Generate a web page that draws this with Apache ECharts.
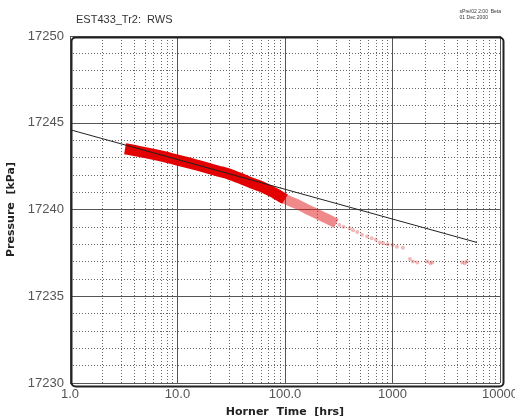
<!DOCTYPE html>
<html>
<head>
<meta charset="utf-8">
<script src="https://cdn.jsdelivr.net/npm/echarts@6/dist/echarts.min.js"></script>
<style>
  html, body { margin: 0; padding: 0; background: #fff; }
  #chart { width: 515px; height: 416px; }
</style>
</head>
<body>
<div id="chart"></div>
<script>
// dense part of the red measured band (centre of ribbon)
var denseTime = [3.25, 4, 5, 6.5, 8, 10, 13, 16, 20, 25, 30, 40, 50, 60, 80, 100];
var densePres = [17243.5, 17243.4, 17243.28, 17243.13, 17243.0, 17242.85, 17242.67, 17242.52, 17242.35, 17242.18,
                 17242.05, 17241.75, 17241.5, 17241.33, 17240.95, 17240.6];
// thinner, fading part of the band
var fadeTime = [80, 100, 130, 160, 212, 260, 300];
var fadePres = [17240.95, 17240.6, 17240.3, 17240.02, 17239.66, 17239.4, 17239.2];
// sparse tail points
var tailTime = [320, 350, 400, 430, 470, 520, 580, 640, 700, 760, 820, 900, 1000, 1100, 1250,
                1450, 1550, 1700, 2100, 2250, 2340, 4450, 4700, 4900];
var tailPres = [17239.1, 17239.0, 17238.9, 17238.8, 17238.7, 17238.55, 17238.45,
                17238.35, 17238.25, 17238.1, 17238.05, 17238.0, 17237.95, 17237.85, 17237.8,
                17237.15, 17237.0, 17236.95, 17237.0, 17236.9, 17236.95, 17236.95, 17236.9, 17237.0];
// straight line fit
var fitTime = [1, 6100];
var fitPres = [17244.6, 17238.1];

function zip(a, b) {
  return a.map(function (v, i) { return [v, b[i]]; });
}

// minor log gridlines 2..9 in every decade
var minorX = [];
for (var k = 0; k < 4; k++) {
  for (var d = 2; d <= 9; d++) minorX.push(d * Math.pow(10, k));
}

var chart = echarts.init(document.getElementById('chart'));
var option = {
  animation: false,
  title: {
    text: 'EST433_Tr2:  RWS',
    left: 71, top: 9,
    textStyle: { fontSize: 11, fontWeight: 'normal', color: '#333', fontFamily: 'Liberation Sans' }
  },
  graphic: [{
    type: 'text', right: 14, top: 9,
    style: { text: 'sPre/02 2:00  Beta\n01 Dec 2000', fontSize: 5, fill: '#333', align: 'right', lineHeight: 6 }
  }, {
    type: 'rect', left: 69, top: 35, z: 100,
    shape: { width: 432, height: 349, r: 4 },
    style: { fill: 'none', stroke: '#222', lineWidth: 2 }
  }],
  grid: { left: 70, top: 36, width: 430, height: 347, outerBoundsMode: 'none' },
  xAxis: {
    type: 'log', logBase: 10, min: 1, max: 10000,
    name: 'Horner  Time  [hrs]', nameLocation: 'middle', nameGap: 24,
    nameTextStyle: { fontSize: 11, fontWeight: 'bold', color: '#222', fontFamily: 'DejaVu Sans' },
    axisLine: { show: false },
    axisTick: { show: false },
    axisLabel: {
      fontSize: 13, color: '#555', margin: 5, fontFamily: 'Liberation Sans',
      formatter: function (v) { return v < 1000 ? v.toFixed(1) : String(v); }
    },
    splitLine: { show: true, lineStyle: { color: '#555', width: 1 } }
  },
  yAxis: {
    type: 'value', min: 17230, max: 17250, interval: 5,
    name: 'Pressure  [kPa]', nameLocation: 'middle', nameGap: 52,
    nameTextStyle: { fontSize: 11, fontWeight: 'bold', color: '#222', fontFamily: 'DejaVu Sans' },
    axisLine: { show: false },
    axisTick: { show: false },
    axisLabel: {
      fontSize: 13, color: '#555', margin: 6, fontFamily: 'Liberation Sans',
      formatter: function (v) { return String(v); }
    },
    splitLine: { show: true, lineStyle: { color: '#555', width: 1 } },
    minorTick: { show: false, splitNumber: 5 },
    minorSplitLine: { show: true, lineStyle: { color: '#666', width: 1, type: [1, 2] } }
  },
  series: [{
    name: 'fade',
    type: 'line',
    data: zip(fadeTime, fadePres),
    symbol: 'none',
    smooth: 0.3,
    z: 3,
    lineStyle: { color: 'rgba(225,20,20,0.5)', width: 10, cap: 'butt' }
  }, {
    name: 'dense',
    type: 'line',
    data: zip(denseTime, densePres),
    symbol: 'none',
    smooth: 0.3,
    z: 3,
    lineStyle: { color: '#e30000', width: 11, cap: 'butt' }
  }, {
    name: 'tail',
    type: 'scatter',
    data: zip(tailTime, tailPres),
    symbolSize: 4,
    z: 3,
    itemStyle: { color: 'rgba(220,60,60,0.45)' }
  }, {
    name: 'fit',
    type: 'line',
    data: zip(fitTime, fitPres),
    symbol: 'none',
    z: 4,
    lineStyle: { color: '#222', width: 1 },
    markLine: {
      silent: true, symbol: 'none', z: 1,
      label: { show: false },
      lineStyle: { color: '#666', width: 1, type: [1, 2] },
      data: minorX.map(function (v) { return { xAxis: v }; })
    }
  }]
};
chart.setOption(option);
</script>
</body>
</html>
